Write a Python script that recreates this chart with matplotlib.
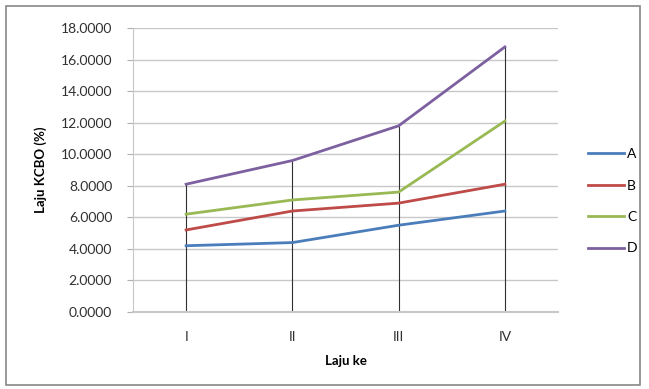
import matplotlib
matplotlib.use('Agg')
import matplotlib.pyplot as plt
import numpy as np
from matplotlib.patches import Rectangle

categories = ['I', 'II', 'III', 'IV']
A = [4.2, 4.4, 5.5, 6.4]
B = [5.2, 6.4, 6.9, 8.1]
C = [6.2, 7.1, 7.6, 12.1]
D = [8.1, 9.6, 11.8, 16.8]
series = {'A': A, 'B': B, 'C': C, 'D': D}
colors = {'A': '#4a7ebb', 'B': '#be4b48', 'C': '#98b954', 'D': '#7d60a0'}

plt.rcParams['font.family'] = ['Lato', 'DejaVu Sans']

fig = plt.figure(figsize=(6.49, 3.89), dpi=100)
ax = fig.add_axes([133 / 649, 1 - 312 / 389, (558 - 133) / 649, (312 - 28) / 389])

x = np.arange(len(categories))

# drop lines from highest point down to the axis
tops = np.max(np.array(list(series.values())), axis=0)
ax.vlines(x, 0, tops, color='#303030', lw=0.8, zorder=2)

for name, vals in series.items():
    ax.plot(x, vals, color=colors[name], lw=2, label=name, zorder=3)

ax.set_xlim(-0.5, len(categories) - 0.5)
ax.set_ylim(0, 18)
ax.set_yticks(np.arange(0, 18.1, 2))
ax.set_yticklabels(['{:.4f}'.format(v) for v in np.arange(0, 18.1, 2)], fontsize=10, color='#303030')
ax.set_xticks(x)
ax.set_xticklabels(categories, fontsize=10, color='#303030')
ax.tick_params(axis='x', length=0, pad=14)
ax.tick_params(axis='y', length=4, color='#b0b0b0', pad=11)
ax.grid(axis='y', color='#c8c8c8', lw=1)
ax.set_axisbelow(True)
for s in ['top', 'right']:
    ax.spines[s].set_visible(False)
ax.spines['left'].set_color('#c8c8c8')
ax.spines['bottom'].set_color('#c8c8c8')
ax.spines['bottom'].set_linewidth(1.5)

ax.set_ylabel('Laju KCBO (%)', fontsize=9.5, fontweight='bold', labelpad=10)
ax.set_xlabel('Laju ke', fontsize=9.5, fontweight='bold', labelpad=8)

ax.legend(loc='center left', bbox_to_anchor=((588 - 133) / 425, 0.39), frameon=False,
          borderaxespad=0, borderpad=0,
          fontsize=10, handlelength=2.6, handletextpad=0.2, labelspacing=1.4)

fig.patches.append(Rectangle((6 / 649, 4 / 389), 634 / 649, 379 / 389, transform=fig.transFigure,
                             fill=False, edgecolor='#888888', lw=1.2))

fig.savefig('out.png', dpi=100)
